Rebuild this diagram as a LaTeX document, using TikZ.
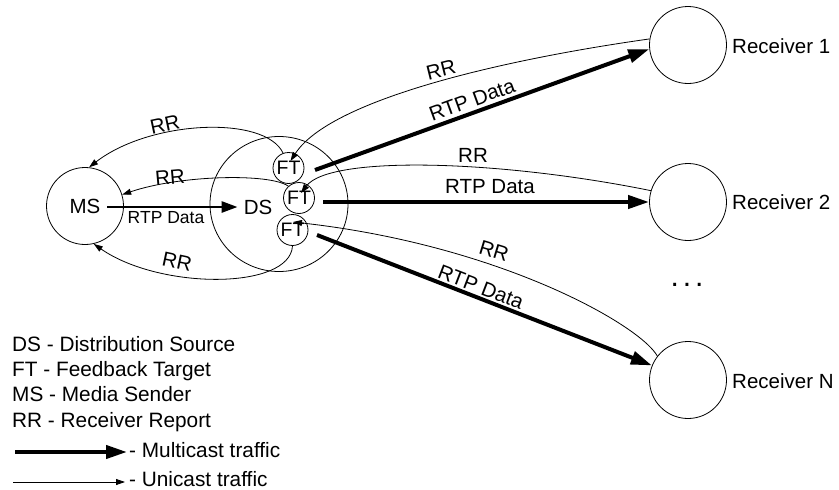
\documentclass[tikz,border=0pt]{standalone}
\usepackage{fontspec}
\setmainfont{Liberation Sans}
\usetikzlibrary{arrows.meta,shapes.geometric,calc}
\begin{document}
\begin{tikzpicture}[x=1pt,y=-1pt,
  txt/.style={font=\fontsize{20.5}{24}\selectfont, inner sep=0pt},
  legtxt/.style={font=\fontsize{20.8}{24}\selectfont, inner sep=0pt, anchor=base west},
  circ/.style={draw, circle, line width=0.8pt, inner sep=0pt},
  rcv/.style={circ, minimum size=77pt},
  ftnode/.style={circ, minimum size=31pt, font=\fontsize{19.5}{20}\selectfont},
  multi/.style={line width=4pt, -{Triangle[length=21pt,width=13pt]}},
  uni/.style={line width=0.8pt, -{Triangle[length=9pt,width=6pt]}},
]
\useasboundingbox (0,0) rectangle (839,490);

% shapes
\node[draw, ellipse, line width=0.8pt, minimum width=138pt, minimum height=135pt, inner sep=0pt] (zone) at (279,204) {};
\node[rcv, txt] (MS) at (85,206) {MS};
\node[txt] (DS) at (258,207) {DS};
\node[ftnode] (FT1) at (288.5,168) {FT};
\node[ftnode] (FT2) at (299,198) {FT};
\node[ftnode] (FT3) at (292.5,230) {FT};
\node[rcv] (R1) at (688,45) {};
\node[rcv] (R2) at (688,202) {};
\node[rcv] (RN) at (688,380) {};
\node[txt, anchor=base west] (R1l) at (732,53.3) {Receiver 1};
\node[txt, anchor=base west] (R2l) at (732,209.5) {Receiver 2};
\node[txt, anchor=base west] (RNl) at (732,388) {Receiver N};
\node[font=\fontsize{30}{30}\selectfont, inner sep=0pt, anchor=base] (dots) at (687,286) {.\hspace{3.9pt}.\hspace{3.9pt}.};

% MS -> DS
\draw[line width=2.7pt, -{Triangle[length=16pt,width=11pt]}] ($(MS.center)+(22,1)$) -- ([xshift=-6pt]DS.west);
\node[font=\fontsize{17.5}{20}\selectfont, inner sep=0pt] (rtpms) at (166,218) {RTP Data};

% multicast
\draw[multi] ($(FT1.center)+(26.5,2)$) -- (R1.186);
\draw[multi] ($(FT2.center)+(24,4)$) -- (R2.west);
\draw[multi] ($(FT3.center)+(24.5,5)$) -- (RN.158);

% unicast reports
\draw[uni] (R1.171) .. controls (500,60) and (330,100) .. ($(FT1.center)+(2,-7)$);
\draw[uni] (FT1.110) .. controls (265,115) and (150,120) .. (MS.84);
\draw[uni] (R2.163) .. controls (500,160) and (330,155) .. ($(FT2.center)+(2,-5)$);
\draw[uni] (FT2.132) .. controls (270,173) and (180,175) .. (MS.17);
\draw[uni] (RN.142) .. controls (640,325) and (500,245) .. ($(FT3.center)+(0.5,-8)$);
\draw[uni] (FT3.270) .. controls (290,290) and (160,290) .. (MS.-77);

% labels
\node[txt, rotate=14] (rr1) at (441,70) {RR};
\node[txt, rotate=20] (rtp1) at (472,100) {RTP Data};
\node[txt] (rr2) at (473,155) {RR};
\node[txt] (rtp2) at (490,187) {RTP Data};
\node[txt, rotate=-17] (rr3) at (494,251) {RR};
\node[txt, rotate=-21] (rtp3) at (481,287) {RTP Data};
\node[txt, rotate=12] (rrm1) at (165,125) {RR};
\node[txt, rotate=5] (rrm2) at (170,177) {RR};
\node[txt, rotate=-12] (rrm3) at (177,262) {RR};

% legend
\node[legtxt] (lg1) at (12,351) {DS - Distribution Source};
\node[legtxt] (lg2) at (12,376) {FT - Feedback Target};
\node[legtxt] (lg3) at (12,401.7) {MS - Media Sender};
\node[legtxt] (lg4) at (12,427.3) {RR - Receiver Report};
\coordinate (m1) at (15,452);
\coordinate (m2) at (127,452);
\draw[multi] (m1) -- (m2);
\node[legtxt] (lg5) at (129,457) {- Multicast traffic};
\coordinate (u1) at (13,482);
\coordinate (u2) at (125,482);
\draw[uni] (u1) -- (u2);
\node[legtxt] (lg6) at (129,486.7) {- Unicast traffic};
\end{tikzpicture}
\end{document}
